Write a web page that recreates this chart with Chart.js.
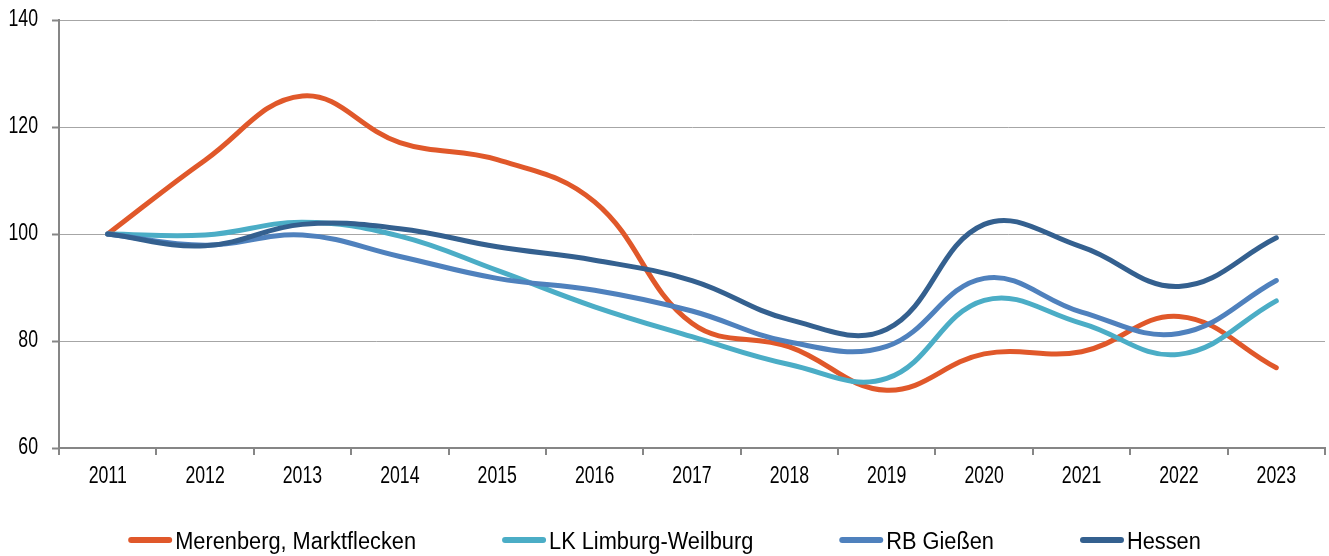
<!DOCTYPE html>
<html>
<head>
<meta charset="utf-8">
<script src="https://cdn.jsdelivr.net/npm/chart.js@4"></script>
<style>
html,body{margin:0;padding:0;background:#fff;}
#wrap{width:1329px;height:556px;position:relative;}
</style>
</head>
<body>
<div id="wrap"><canvas id="c" width="1329" height="556"></canvas></div>
<script>
const years = ['2011','2012','2013','2014','2015','2016','2017','2018','2019','2020','2021','2022','2023'];
const merenberg = [100, 113.8, 125.8, 117.1, 113.9, 106.0, 83.3, 78.9, 70.8, 77.6, 78.0, 84.6, 75.0];
const limburg   = [100, 99.8, 102.2, 99.6, 93.2, 86.4, 80.8, 75.6, 73.0, 87.6, 83.3, 77.5, 87.5];
const giessen   = [100, 97.9, 99.8, 95.8, 91.7, 89.5, 85.6, 79.8, 79.0, 91.7, 85.4, 81.4, 91.3];
const hessen    = [100, 97.8, 101.8, 101.0, 97.6, 95.1, 91.3, 84.0, 82.2, 101.8, 97.6, 90.2, 99.3];
const seriesNames = ['Merenberg, Marktflecken', 'LK Limburg-Weilburg', 'RB Gießen', 'Hessen'];
const yTicks = [60, 80, 100, 120, 140];

const colors = ['#E0582A', '#4BADC6', '#4F81BD', '#34608F'];
const seriesData = [merenberg, limburg, giessen, hessen];

const FAMILY = '"Liberation Sans", Arial, sans-serif';
const TICK_SIZE = 23;
const TICK_SX = 0.77;     // condensed look of the original font
const LEG_SIZE = 23;
const LEG_SX = 0.947;

const canvas = document.getElementById('c');
const ctx = canvas.getContext('2d');
const origFill = ctx.fillText.bind(ctx);
const origMeasure = ctx.measureText.bind(ctx);
ctx.fillText = function (text, x, y, maxWidth) {
  this.save();
  this.translate(x, y);
  this.scale(TICK_SX, 1);
  if (maxWidth === undefined) origFill(text, 0, 0); else origFill(text, 0, 0, maxWidth / TICK_SX);
  this.restore();
};
ctx.measureText = function (text) {
  const m = origMeasure(text);
  return { width: m.width * TICK_SX, actualBoundingBoxAscent: m.actualBoundingBoxAscent, actualBoundingBoxDescent: m.actualBoundingBoxDescent, actualBoundingBoxLeft: m.actualBoundingBoxLeft * TICK_SX, actualBoundingBoxRight: m.actualBoundingBoxRight * TICK_SX };
};

const legendPlugin = {
  id: 'customLegend',
  afterDraw(chart) {
    const c = chart.ctx;
    c.save();
    c.font = LEG_SIZE + 'px ' + FAMILY;
    c.textAlign = 'left';
    c.textBaseline = 'alphabetic';
    const lineLen = 44, gapText = 3, gapItem = 86;
    const widths = seriesNames.map(n => origMeasure(n).width * LEG_SX);
    const total = widths.reduce((a, b) => a + b, 0) + seriesNames.length * (lineLen + gapText) + (seriesNames.length - 1) * gapItem;
    let x = chart.width / 2 - total / 2;
    const yLine = 540, yText = 548.5;
    seriesNames.forEach((n, i) => {
      c.beginPath();
      c.strokeStyle = colors[i];
      c.lineWidth = 6;
      c.lineCap = 'round';
      c.moveTo(x + 3, yLine);
      c.lineTo(x + lineLen - 3, yLine);
      c.stroke();
      c.fillStyle = '#000';
      c.save();
      c.translate(x + lineLen + gapText, yText);
      c.scale(LEG_SX, 1);
      origFill(n, 0, 0);
      c.restore();
      x += lineLen + gapText + widths[i] + gapItem;
    });
    c.restore();
  }
};

Chart.defaults.font.family = FAMILY;
Chart.defaults.color = '#000';

new Chart(canvas, {
  type: 'line',
  data: {
    labels: years,
    datasets: seriesData.map((d, i) => ({
      label: seriesNames[i],
      data: d,
      borderColor: colors[i],
      backgroundColor: colors[i],
      borderWidth: 5,
      borderCapStyle: 'round',
      borderJoinStyle: 'round',
      pointRadius: 0,
      pointHoverRadius: 0,
      tension: 0.4,
      fill: false
    })).reverse()
  },
  options: {
    responsive: false,
    animation: false,
    layout: { padding: { top: 20, right: 4, left: 0, bottom: 0 } },
    plugins: {
      tooltip: { enabled: false },
      legend: { display: false }
    },
    scales: {
      x: {
        offset: true,
        afterFit: (s) => { s.height = 108; },
        grid: { display: true, drawOnChartArea: false, drawTicks: true, tickLength: 7, offset: true, color: '#868686', lineWidth: 2 },
        border: { display: true, color: '#868686', width: 2 },
        ticks: { font: { size: TICK_SIZE }, color: '#000', padding: 8, maxRotation: 0, autoSkip: false }
      },
      y: {
        min: 60, max: 140,
        afterBuildTicks: (s) => { s.ticks = yTicks.map(v => ({ value: v })); },
        afterFit: (s) => { s.width = 59; s.paddingTop = 0; s.paddingBottom = 0; },
        grid: { color: '#A6A6A6', lineWidth: 1, drawTicks: true, tickLength: 7, tickColor: '#868686', tickWidth: 2 },
        border: { display: true, color: '#868686', width: 2 },
        ticks: { font: { size: TICK_SIZE, lineHeight: 1 }, color: '#000', padding: 14 }
      }
    }
  },
  plugins: [legendPlugin]
});
</script>
</body>
</html>
